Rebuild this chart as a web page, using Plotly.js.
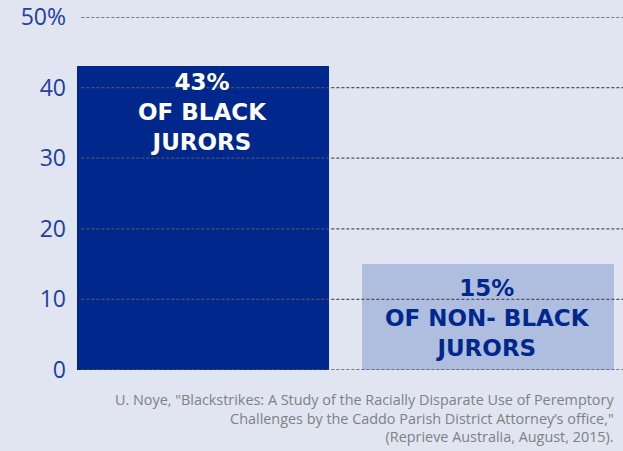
<!DOCTYPE html>
<html>
<head>
<meta charset="utf-8">
<script src="https://cdn.plot.ly/plotly-3.0.1.min.js"></script>
<style>html,body{margin:0;padding:0;background:#e0e5f1;}</style>
</head>
<body>
<div id="chart" style="width:623px;height:451px;"></div>
<script>
// Data
const categories = ['Black jurors', 'Non-black jurors'];
const values = [43, 15];
const barLabels = ['43%<br>OF BLACK<br>JURORS', '15%<br>OF NON- BLACK<br>JURORS'];
const tickValues = [0, 10, 20, 30, 40, 50];
const tickLabels = ['0', '10', '20', '30', '40', '50%'];
const sourceText = 'U. Noye, "Blackstrikes: A Study of the Racially Disparate Use of Peremptory<br>Challenges by the Caddo Parish District Attorney\u2019s office,"<br>(Reprieve Australia, August, 2015).';

const barColors = ['#00288c', '#afbddf'];
const labelColors = ['#ffffff', '#00288c'];
const labelShift = [-46, -54];

const trace = {
  type: 'bar',
  x: [0, 1],
  y: values,
  width: 0.884,
  marker: {color: barColors, line: {width: 0}},
  hoverinfo: 'none',
  text: categories,
  textposition: 'none'
};

const gridShapes = tickValues.map(v => ({
  type: 'line', layer: 'above', xref: 'paper', yref: 'y',
  x0: 0.008, x1: 1, y0: v, y1: v,
  line: {color: '#4f535e', width: 1.3, dash: '3px,2px'}
}));

const annotations = values.map((v, i) => ({
  x: i, y: v, xref: 'x', yref: 'y',
  text: barLabels[i], showarrow: false,
  yanchor: 'middle', xanchor: 'center', align: 'center',
  yshift: labelShift[i],
  font: {family: 'DejaVu Sans', size: 23, weight: 'bold', color: labelColors[i]}
}));
annotations.push({
  xref: 'paper', yref: 'paper', x: 0.988, y: -0.052,
  xanchor: 'right', yanchor: 'top', align: 'right', showarrow: false,
  text: sourceText,
  font: {family: 'Open Sans', size: 14.4, color: '#7f8085'}
});

const layout = {
  width: 623, height: 451,
  margin: {l: 77, r: 0, t: 17, b: 81, pad: 0},
  paper_bgcolor: '#e0e5f1',
  plot_bgcolor: '#e0e5f1',
  showlegend: false,
  bargap: 0,
  xaxis: {
    range: [-0.442, 1.474], showgrid: false, zeroline: false,
    showticklabels: false, ticks: '', showline: false, fixedrange: true
  },
  yaxis: {
    range: [0, 50], tickvals: tickValues, ticktext: tickLabels,
    showgrid: false, zeroline: false, showline: false, ticks: '',
    ticklabelstandoff: 10,
    tickfont: {family: 'Open Sans', size: 23, color: '#2240a0'},
    fixedrange: true
  },
  shapes: gridShapes,
  annotations: annotations
};

Plotly.newPlot('chart', [trace], layout, {staticPlot: true, displayModeBar: false});
</script>
</body>
</html>
